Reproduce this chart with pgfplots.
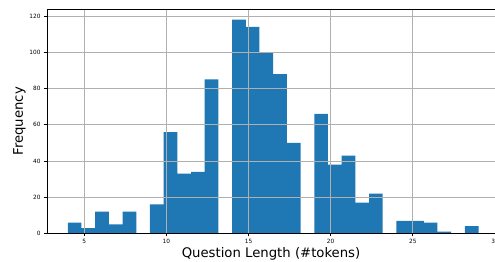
\documentclass[border=0pt]{standalone}
\usepackage{pgfplots}
\pgfplotsset{compat=1.18}
\usepackage{fontspec}
\setmainfont{DejaVu Sans}
\definecolor{mplblue}{HTML}{1F77B4}
\definecolor{gridgray}{HTML}{B0B0B0}
\begin{document}
\begin{tikzpicture}
\begin{axis}[
  name=ax,
  scale only axis,
  width=447pt, height=224pt,
  xmin=2.74, xmax=30, ymin=0, ymax=123.9,
  xtick={5,10,15,20,25,30},
  ytick={0,20,40,60,80,100,120},
  tick align=outside,
  major tick length=3pt,
  xtick pos=bottom, ytick pos=left,
  grid=major,
  major grid style={gridgray, line width=0.8pt},
  axis line style={black, line width=0.8pt},
  tick style={black, line width=0.8pt},
  axis on top,
  /pgf/number format/assume math mode=true,
  tick label style={font=\fontsize{5.8}{6}\selectfont},
  xticklabel style={yshift=1pt},
  xlabel={Question Length (\#tokens)},
  ylabel={Frequency},
  label style={font=\fontsize{13.2}{15}\selectfont},
  xlabel style={at={(axis description cs:0.5,-0.089)}, anchor=center},
  ylabel style={at={(axis description cs:-0.062,0.5)}, anchor=center, rotate=0},
]
\addplot[ybar interval, fill=mplblue, draw=none] coordinates {
(4,6) (4.83333,3) (5.66667,12) (6.5,5) (7.33333,12) (8.16667,0)
(9,16) (9.83333,56) (10.66667,33) (11.5,34) (12.33333,85) (13.16667,0)
(14,118) (14.83333,114) (15.66667,100) (16.5,88) (17.33333,50) (18.16667,0)
(19,66) (19.83333,38) (20.66667,43) (21.5,17) (22.33333,22) (23.16667,0)
(24,7) (24.83333,7) (25.66667,6) (26.5,1) (27.33333,0) (28.16667,4) (29,4)
};
\end{axis}
\pgfresetboundingbox
\path ([xshift=-47pt,yshift=-28pt]ax.south west) rectangle ([yshift=9pt]ax.north east);
\end{tikzpicture}
\end{document}
